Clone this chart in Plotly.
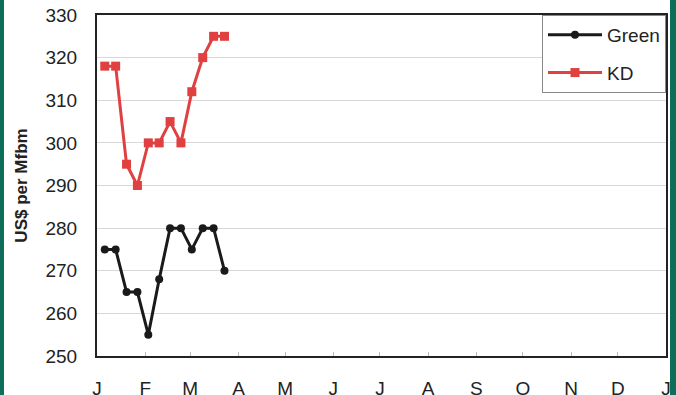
import plotly.graph_objects as go

dates = ["2012-01-06", "2012-01-13", "2012-01-20", "2012-01-27", "2012-02-03", "2012-02-10",
         "2012-02-17", "2012-02-24", "2012-03-02", "2012-03-09", "2012-03-16", "2012-03-23"]
green = [275, 275, 265, 265, 255, 268, 280, 280, 275, 280, 280, 270]
kd = [318, 318, 295, 290, 300, 300, 305, 300, 312, 320, 325, 325]

month_ticks = ["2012-01-01", "2012-02-01", "2012-03-01", "2012-04-01", "2012-05-01", "2012-06-01",
               "2012-07-01", "2012-08-01", "2012-09-01", "2012-10-01", "2012-11-01", "2012-12-01",
               "2013-01-01"]
month_labels = ["J", "F", "M", "A", "M", "J", "J", "A", "S", "O", "N", "D", "J"]
y_ticks = [250, 260, 270, 280, 290, 300, 310, 320, 330]

fig = go.Figure()
fig.add_trace(go.Scatter(x=dates, y=green, name="Green", mode="lines+markers", legendgroup="g1",
                         line=dict(color="#1a1a1a", width=3),
                         marker=dict(symbol="circle", size=8, color="#1a1a1a")))
fig.add_trace(go.Scatter(x=dates, y=kd, name="KD", mode="lines+markers", legendgroup="g2",
                         line=dict(color="#e04040", width=3),
                         marker=dict(symbol="square", size=9, color="#e04040")))

L, R, T, B = 97, 10, 15, 39
W, H = 676, 395
pw = W - L - R
teal = "#0f6e5a"
fig.add_shape(type="rect", xref="paper", yref="paper",
              x0=(0 - L) / pw, x1=(4 - L) / pw, y0=-2, y1=3,
              fillcolor=teal, line=dict(width=0), layer="below")
fig.add_shape(type="rect", xref="paper", yref="paper",
              x0=(670 - L) / pw, x1=(680 - L) / pw, y0=-2, y1=3,
              fillcolor=teal, line=dict(width=0), layer="below")

fig.update_layout(
    width=W, height=H,
    margin=dict(l=L, r=R, t=T, b=B, autoexpand=False),
    paper_bgcolor="white", plot_bgcolor="white",
    font=dict(family="Liberation Sans, Arial, sans-serif", size=19, color="#222"),
    showlegend=True,
    legend=dict(x=1, y=1, xanchor="right", yanchor="top",
                bordercolor="#888", borderwidth=1, bgcolor="white",
                font=dict(size=19), tracegroupgap=10, itemwidth=54),
    xaxis=dict(type="date", range=["2012-01-01", "2013-01-01"],
               tickvals=month_ticks, ticktext=month_labels,
               showgrid=False, ticks="inside", ticklen=4, tickcolor="#bbb",
               showline=True, linecolor="#222", linewidth=2, mirror=True,
               ticklabelstandoff=14, zeroline=False, automargin=False),
    yaxis=dict(range=[250, 330], tickvals=y_ticks,
               showgrid=True, gridcolor="#d8d8d8", gridwidth=1,
               showline=True, linecolor="#222", linewidth=2, mirror=True,
               ticks="", ticklabelstandoff=14, zeroline=False, automargin=False,
               title=dict(text="<b>US$ per Mfbm</b>", font=dict(size=17), standoff=14)),
)
fig.write_html("out.html")
